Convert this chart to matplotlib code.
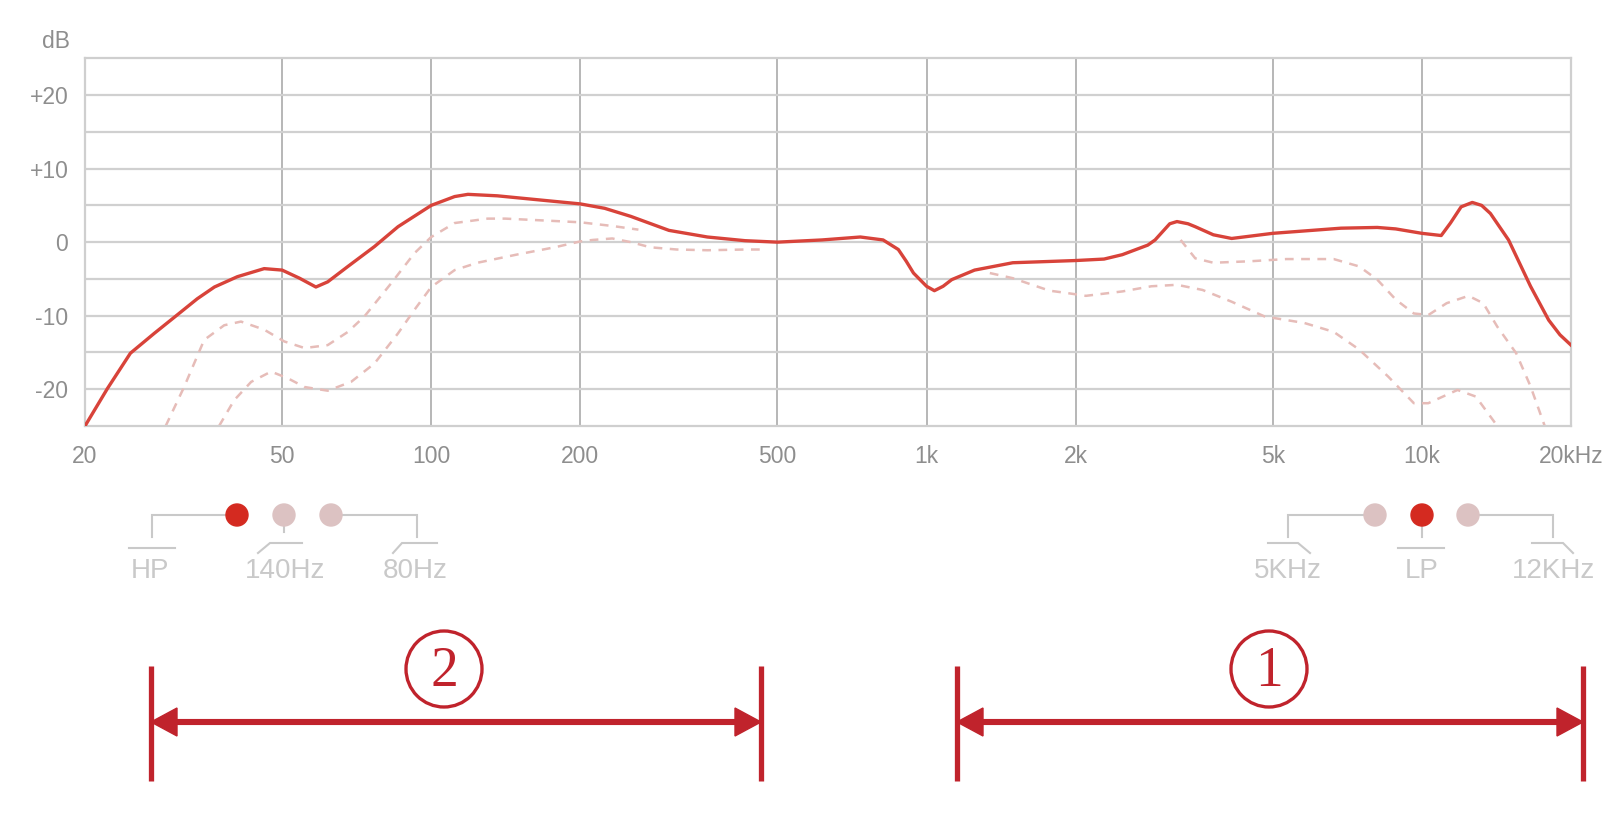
import numpy as np
import matplotlib
matplotlib.use('Agg')
import matplotlib.pyplot as plt
from matplotlib.patches import Circle, Polygon

plt.rcParams['font.family'] = ['Liberation Sans', 'DejaVu Sans']

# response curves (Hz, dB)
main_f = [20, 22.2, 24.7, 27.6, 30.7, 33.7, 36.5, 40.6, 46, 50, 54.2, 58.5, 61.8, 67.9, 76.8,
          85.7, 100, 111.5, 118.6, 136, 162, 200, 224, 253, 302, 361, 430, 500, 615, 735,
          817, 877, 910, 941, 1000, 1037, 1080, 1124, 1250, 1493, 2000, 2282, 2485, 2797,
          2893, 3097, 3203, 3372, 3487, 3793, 4130, 5000, 6866, 8128, 8854, 10000, 10940,
          11420, 12000, 12640, 13200, 13750, 14960, 16570, 18030, 19000, 20000]
main_db = [-25, -19.9, -15.1, -12.4, -9.9, -7.7, -6.1, -4.7, -3.6, -3.8, -4.9, -6.1, -5.4,
           -3.3, -0.6, 2.1, 5.0, 6.2, 6.5, 6.3, 5.8, 5.2, 4.6, 3.5, 1.6, 0.7, 0.2, 0.0, 0.3,
           0.7, 0.3, -1.0, -2.6, -4.2, -6.0, -6.6, -6.0, -5.1, -3.8, -2.8, -2.5, -2.3, -1.7,
           -0.4, 0.3, 2.5, 2.8, 2.5, 2.1, 1.0, 0.5, 1.2, 1.9, 2.0, 1.8, 1.2, 0.9,
           2.6, 4.8, 5.4, 5.0, 3.9, 0.3, -6.0, -10.6, -12.6, -14.0]

hp80_f = [29.1, 31.7, 34.8, 38.2, 41.3, 46, 50.5, 55.5, 61.8, 67.9, 73.3, 83, 92.5, 100,
          111.5, 130, 141, 174.5, 200, 232, 262]
hp80_db = [-25, -19.7, -13.3, -11.3, -10.8, -11.9, -13.5, -14.4, -14.0, -12.2, -10.1, -5.6,
           -1.5, 0.7, 2.6, 3.2, 3.2, 2.9, 2.7, 2.2, 1.7]

hp140_f = [37.3, 40, 43.3, 47.5, 51.3, 55.5, 61.8, 68.9, 76.8, 85.7, 92.5, 100, 111.5, 124,
           148.6, 177.5, 200, 212, 232, 253, 277, 313, 361, 431, 471]
hp140_db = [-25, -21.5, -19.0, -17.6, -18.5, -19.7, -20.2, -19.0, -16.5, -12.4, -9.2, -6.1,
            -3.8, -2.8, -1.7, -0.7, 0.1, 0.3, 0.5, 0.0, -0.7, -1.0, -1.1, -1.0, -1.0]

lp12k_f = [3258, 3487, 3793, 4495, 5325, 6637, 7470, 8128, 8854, 9634, 10310, 11220, 12420,
           13300, 14200, 15500, 16570, 17700]
lp12k_db = [0.3, -2.2, -2.8, -2.6, -2.3, -2.3, -3.3, -5.1, -7.8, -9.7, -9.9, -8.3, -7.3,
            -8.3, -11.5, -15.1, -19.6, -25]

lp5k_f = [1342, 1493, 1771, 1913, 2097, 2485, 2843, 3203, 3607, 4130, 4811, 5796, 6637,
          7470, 8556, 9634, 10300, 11800, 12850, 14200]
lp5k_db = [-4.2, -4.9, -6.6, -6.9, -7.3, -6.7, -6.0, -5.8, -6.5, -8.1, -10.1, -11.0, -12.2,
           -14.6, -18.3, -21.9, -21.9, -20.1, -21.0, -25]

x_ticks = [20, 50, 100, 200, 500, 1000, 2000, 5000, 10000, 20000]
x_labels = ['20', '50', '100', '200', '500', '1k', '2k', '5k', '10k', '20kHz']
y_ticks = [-20, -15, -10, -5, 0, 5, 10, 15, 20]
y_labels = ['-20', '', '-10', '', '0', '', '+10', '', '+20']

red = '#d8433a'
pink = '#e6bcb8'
gray_txt = '#8e8e8e'
light = '#c9c9c9'
dark_red = '#c0232c'

W, H = 1622, 814
fig = plt.figure(figsize=(W / 100, H / 100), dpi=100)
ax = fig.add_axes([85 / W, 1 - 426 / H, (1571 - 85) / W, (426 - 58.3) / H])

dash = (0, (3.5, 3))
for f, db in [(hp80_f, hp80_db), (hp140_f, hp140_db), (lp12k_f, lp12k_db), (lp5k_f, lp5k_db)]:
    ax.plot(f, db, color=pink, lw=1.8, ls=dash, zorder=2)
ax.plot(main_f, main_db, color=red, lw=2.4, zorder=3, solid_joinstyle='round')

ax.set_xscale('log')
ax.set_xlim(20, 20000)
ax.set_ylim(-25, 25)
ax.set_xticks(x_ticks)
ax.set_xticklabels(x_labels)
ax.xaxis.set_minor_locator(matplotlib.ticker.NullLocator())
ax.set_yticks(y_ticks)
ax.set_yticklabels(y_labels)
ax.tick_params(length=0, labelsize=16.5, labelcolor=gray_txt)
ax.tick_params(axis='x', pad=14)
ax.tick_params(axis='y', pad=12)
ax.xaxis.grid(True, color='#aaaaaa', lw=1.2, zorder=0)
ax.yaxis.grid(True, color='#d0d0d0', lw=1.6, zorder=0)
ax.set_axisbelow(True)
for s in ax.spines.values():
    s.set_color('#cfcfcf')
    s.set_linewidth(1.6)

fig.text(56 / W, 1 - 42 / H, 'dB', ha='center', va='center', fontsize=16.5, color=gray_txt)

# overlay in pixel coordinates for the switch diagrams and range markers
ov = fig.add_axes([0, 0, 1, 1], zorder=5)
ov.set_xlim(0, W)
ov.set_ylim(H, 0)
ov.axis('off')
ov.patch.set_alpha(0)


def wire(pts):
    xs, ys = zip(*pts)
    ov.plot(xs, ys, color=light, lw=1.5, solid_joinstyle='miter')


def dot(x, on):
    ov.add_patch(Circle((x, 515), 11, color='#d42a20' if on else '#dcc2c2', zorder=6))


# HP switch
wire([(152, 537), (152, 515), (226, 515)])
wire([(129, 548), (175, 548)])
wire([(284, 526), (284, 532)])
wire([(258, 553), (270, 543), (302, 543)])
wire([(342, 515), (417, 515), (417, 537)])
wire([(393, 553), (402, 543), (437, 543)])
dot(237, True)
dot(284, False)
dot(331, False)
for x, t in [(150, 'HP'), (285, '140Hz'), (415, '80Hz')]:
    ov.text(x, 571, t, ha='center', va='center', fontsize=20, color=light)

# LP switch
wire([(1364, 515), (1288, 515), (1288, 537)])
wire([(1268, 543), (1298, 543), (1310, 553)])
wire([(1422, 527), (1422, 537)])
wire([(1398, 548), (1444, 548)])
wire([(1480, 515), (1553, 515), (1553, 537)])
wire([(1532, 543), (1563, 543), (1573, 553)])
dot(1375, False)
dot(1422, True)
dot(1468, False)
for x, t in [(1288, '5KHz'), (1422, 'LP'), (1553, '12KHz')]:
    ov.text(x, 571, t, ha='center', va='center', fontsize=20, color=light)


def span(x0, x1, cx, label):
    ov.plot([x0, x0], [666, 781], color=dark_red, lw=3.8, solid_capstyle='butt')
    ov.plot([x1, x1], [666, 781], color=dark_red, lw=3.8, solid_capstyle='butt')
    ov.plot([x0 + 10, x1 - 10], [722, 722], color=dark_red, lw=4.4)
    ov.add_patch(Polygon([(x0, 722), (x0 + 26, 708), (x0 + 26, 736)], color=dark_red))
    ov.add_patch(Polygon([(x1, 722), (x1 - 26, 708), (x1 - 26, 736)], color=dark_red))
    ov.add_patch(Circle((cx, 669), 38, fill=False, ec=dark_red, lw=2.4))
    ov.text(cx, 672, label, ha='center', va='center', fontsize=40, color=dark_red,
            family='Liberation Serif')


span(151, 761, 444, '2')
span(957, 1583, 1269, '1')

fig.savefig('out.png', dpi=100, facecolor='white')
